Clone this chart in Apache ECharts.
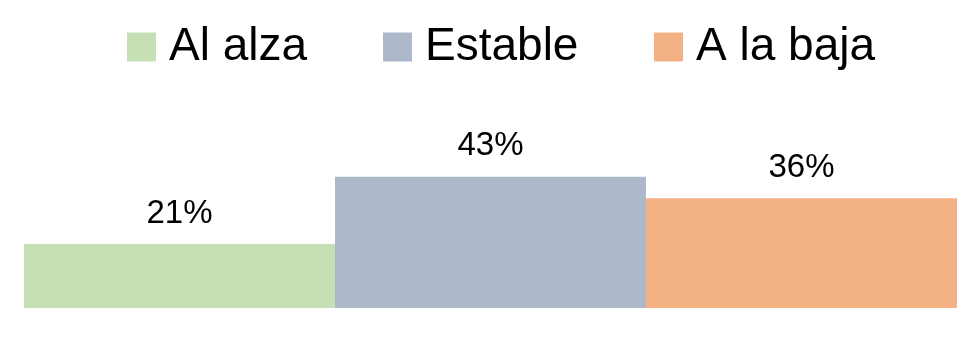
<!DOCTYPE html>
<html><head><meta charset="utf-8">
<script src="https://cdn.jsdelivr.net/npm/echarts@6/dist/echarts.min.js"></script>
<style>html,body{margin:0;padding:0;background:#fff}#c{width:980px;height:337px}</style>
</head><body><div id="c"></div>
<script>
const seriesNames = ['Al alza', 'Estable', 'A la baja'];
const seriesValues = [21, 43, 36];
const seriesColors = ['#C5E0B4', '#ADB9CA', '#F4B183'];
const legendLefts = [127, 383, 654];
const FONT = 'Liberation Sans';

const chart = echarts.init(document.getElementById('c'));
chart.setOption({
  animation: false,
  textStyle: { fontFamily: FONT },
  legend: seriesNames.map((n, i) => ({
    data: [n], left: legendLefts[i], top: 23, padding: 0, icon: 'rect', itemWidth: 29, itemHeight: 29, itemGap: 0,
    textStyle: { fontSize: 46, lineHeight: 48, color: '#000', fontFamily: FONT, padding: [0, 0, 0, 8] }
  })),
  grid: { left: 24, right: 23, top: 155.5, bottom: 29 },
  xAxis: { type: 'category', data: [''], show: false },
  yAxis: { type: 'value', min: 0, max: 50, show: false },
  series: seriesNames.map((n, i) => ({
    name: n, type: 'bar', data: [seriesValues[i]], barGap: '0%', barCategoryGap: '0%',
    itemStyle: { color: seriesColors[i] },
    label: { show: true, position: 'top', distance: 14, formatter: '{c}%', fontSize: 33, color: '#000', fontFamily: FONT }
  }))
});
</script></body></html>
